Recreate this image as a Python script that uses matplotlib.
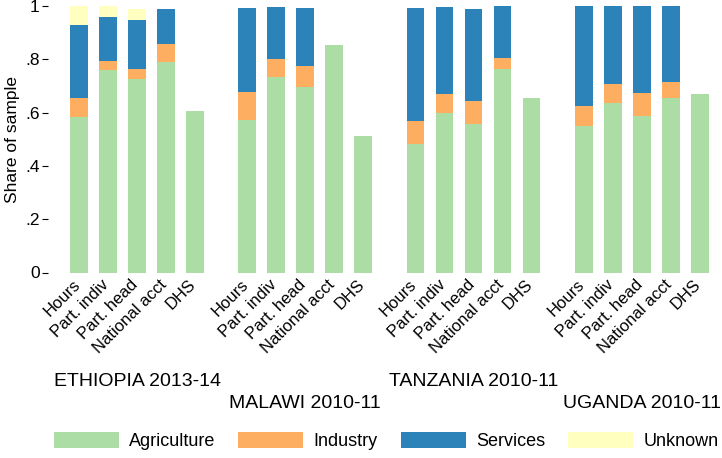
import numpy as np
import matplotlib
matplotlib.use("Agg")
import matplotlib.pyplot as plt
from matplotlib.patches import Patch

plt.rcParams['font.family'] = ['Liberation Sans', 'DejaVu Sans']

countries = ["ETHIOPIA 2013-14", "MALAWI 2010-11", "TANZANIA 2010-11", "UGANDA 2010-11"]
measures = ["Hours", "Part. indiv", "Part. head", "National acct", "DHS"]

# shares, one row per country, one column per measure
agriculture = [[0.585, 0.760, 0.727, 0.790, 0.607],
               [0.572, 0.735, 0.695, 0.853, 0.512],
               [0.482, 0.597, 0.558, 0.762, 0.654],
               [0.550, 0.635, 0.587, 0.654, 0.669]]
industry = [[0.069, 0.034, 0.037, 0.068, 0],
            [0.104, 0.065, 0.079, 0, 0],
            [0.088, 0.072, 0.084, 0.044, 0],
            [0.076, 0.072, 0.085, 0.061, 0]]
services = [[0.274, 0.164, 0.182, 0.130, 0],
            [0.316, 0.195, 0.218, 0, 0],
            [0.422, 0.326, 0.347, 0.193, 0],
            [0.373, 0.293, 0.328, 0.285, 0]]
unknown = [[0.072, 0.042, 0.044, 0, 0],
           [0, 0, 0, 0, 0],
           [0, 0, 0, 0, 0],
           [0, 0, 0, 0, 0]]

sectors = ["Agriculture", "Industry", "Services", "Unknown"]
colors = ["#abdda4", "#fdae61", "#2b83ba", "#ffffbf"]

fig = plt.figure(figsize=(7.22, 4.58), dpi=100)
ax = fig.add_axes([48/722, 1 - 272.5/458, 672/722, 266.5/458])

step = 5.8
for g, country in enumerate(countries):
    x = g * step + np.arange(5)
    bottom = np.zeros(5)
    for vals, c in zip([agriculture, industry, services, unknown], colors):
        v = np.array(vals[g], dtype=float)
        ax.bar(x, v, width=0.61, bottom=bottom, color=c, linewidth=0)
        bottom += v
    # rotated category labels under each bar
    for xi, m in zip(x, measures):
        ax.text(xi - 0.05, -0.037, m, rotation=45, rotation_mode='anchor',
                ha='right', va='center', fontsize=12,
                transform=ax.get_xaxis_transform())
    ax.text(x[2], -0.41 if g % 2 == 0 else -0.49, country, ha='center',
            va='center', fontsize=14, transform=ax.get_xaxis_transform())

ax.set_xlim(-1.069, 22.10)
ax.set_ylim(0, 1)
ax.set_xticks([])
ax.set_yticks([0, 0.2, 0.4, 0.6, 0.8, 1])
ax.set_yticklabels(["0", ".2", ".4", ".6", ".8", "1"], fontsize=12.5)
ax.tick_params(axis='y', direction='out', length=4, width=0.8, pad=2)
for s in ax.spines.values():
    s.set_visible(False)
ax.set_ylabel("Share of sample", fontsize=12.5, labelpad=4)

handles = [Patch(facecolor=c, edgecolor='none') for c in colors]
fig.legend(handles, sectors, loc='center', bbox_to_anchor=(386/722, 1 - 441/458),
           ncol=4, frameon=False, fontsize=13, handlelength=3.6, handleheight=1.0,
           handletextpad=0.55, columnspacing=1.3)

fig.savefig("out.png", dpi=100)
